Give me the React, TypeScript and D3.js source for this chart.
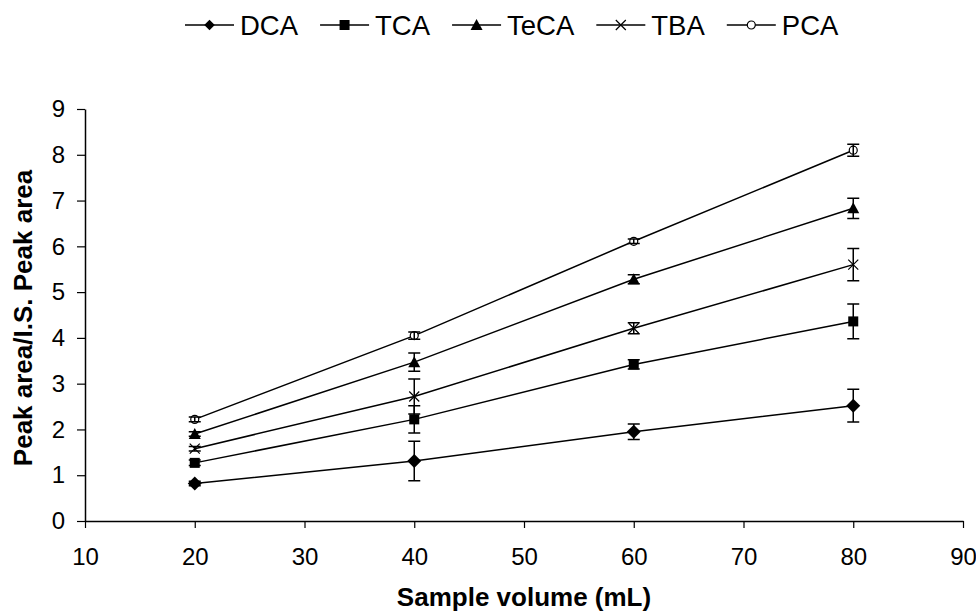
import React, { useEffect, useRef } from 'react';
import * as d3 from 'd3';

// sample volumes (mL)
const volumes = [20, 40, 60, 80];

const seriesNames = ['DCA', 'TCA', 'TeCA', 'TBA', 'PCA'];

// peak area ratio per series
const dca = [0.82, 1.31, 1.95, 2.52];
const tca = [1.27, 2.22, 3.42, 4.36];
const teca = [1.9, 3.47, 5.28, 6.83];
const tba = [1.58, 2.72, 4.21, 5.6];
const pca = [2.22, 4.05, 6.11, 8.1];

// error (± sd)
const dcaErr = [0.05, 0.43, 0.17, 0.36];
const tcaErr = [0.06, 0.3, 0.1, 0.38];
const tecaErr = [0.05, 0.2, 0.1, 0.22];
const tbaErr = [0.05, 0.38, 0.12, 0.35];
const pcaErr = [0.05, 0.08, 0.05, 0.13];

const xTicks = [10, 20, 30, 40, 50, 60, 70, 80, 90];
const yTicks = [0, 1, 2, 3, 4, 5, 6, 7, 8, 9];

const values = [dca, tca, teca, tba, pca];
const errors = [dcaErr, tcaErr, tecaErr, tbaErr, pcaErr];
const markers = ['diamond', 'square', 'triangle', 'cross', 'circle'];

const FONT = 'Arial, "Liberation Sans", sans-serif';

function drawMarker(g: any, type: string, x: number, y: number, k = 1) {
  if (type === 'diamond') {
    const s = 7 * k;
    g.append('path').attr('d', `M${x},${y - s}L${x + s},${y}L${x},${y + s}L${x - s},${y}Z`).attr('fill', '#000');
  } else if (type === 'square') {
    g.append('rect').attr('x', x - 5).attr('y', y - 5).attr('width', 10).attr('height', 10).attr('fill', '#000');
  } else if (type === 'triangle') {
    g.append('path').attr('d', `M${x},${y - 6}L${x + 6},${y + 5}L${x - 6},${y + 5}Z`).attr('fill', '#000');
  } else if (type === 'cross') {
    g.append('path').attr('d', `M${x - 5},${y - 5}L${x + 5},${y + 5}M${x - 5},${y + 5}L${x + 5},${y - 5}`)
      .attr('stroke', '#000').attr('stroke-width', 1.2);
  } else {
    g.append('circle').attr('cx', x).attr('cy', y).attr('r', 4).attr('fill', '#fff')
      .attr('stroke', '#000').attr('stroke-width', 1.2);
  }
}

const App = () => {
  const svgRef = useRef<SVGSVGElement>(null);

  useEffect(() => {
    const width = 976;
    const height = 616;
    const margin = { top: 109, right: 13, bottom: 95, left: 85 };

    const svg = d3.select(svgRef.current);
    svg.selectAll('*').remove();

    const x = d3.scaleLinear().domain([10, 90]).range([margin.left, width - margin.right]);
    const y = d3.scaleLinear().domain([0, 9]).range([height - margin.bottom, margin.top]);

    // axes
    const xAxis = svg.append('g')
      .attr('transform', `translate(0,${height - margin.bottom})`)
      .call(d3.axisBottom(x).tickValues(xTicks).tickSize(7).tickSizeOuter(0).tickPadding(20));
    const yAxis = svg.append('g')
      .attr('transform', `translate(${margin.left},0)`)
      .call(d3.axisLeft(y).tickValues(yTicks).tickSize(8).tickSizeOuter(0).tickPadding(12));

    [xAxis, yAxis].forEach(a => {
      a.select('.domain').attr('stroke', '#000').attr('stroke-width', 1.5);
      a.selectAll('line').attr('stroke', '#000').attr('stroke-width', 1.2);
      a.selectAll('text').attr('font-family', FONT).attr('font-size', 24).attr('fill', '#000');
    });

    // lines
    const line = d3.line<number>().x((d, i) => x(volumes[i])).y(d => y(d));
    values.forEach(vals => {
      svg.append('path').datum(vals).attr('d', line).attr('fill', 'none')
        .attr('stroke', '#000').attr('stroke-width', 1.5);
    });

    // markers and error bars
    values.forEach((vals, si) => {
      const g = svg.append('g');
      vals.forEach((v, i) => {
        const cx = x(volumes[i]);
        drawMarker(g, markers[si], cx, y(v));
        const e = errors[si][i];
        const y0 = y(v - e);
        const y1 = y(v + e);
        g.append('path')
          .attr('d', `M${cx},${y0}L${cx},${y1}M${cx - 6},${y0}L${cx + 6},${y0}M${cx - 6},${y1}L${cx + 6},${y1}`)
          .attr('stroke', '#000').attr('stroke-width', 1.5).attr('fill', 'none');
      });
    });

    // axis titles
    svg.append('text')
      .attr('x', (margin.left + width - margin.right) / 2)
      .attr('y', 606)
      .attr('text-anchor', 'middle')
      .attr('font-family', FONT).attr('font-size', 26).attr('font-weight', 'bold')
      .text('Sample volume (mL)');
    svg.append('text')
      .attr('transform', `translate(32,318) rotate(-90)`)
      .attr('text-anchor', 'middle')
      .attr('font-family', FONT).attr('font-size', 26).attr('font-weight', 'bold')
      .text('Peak area/I.S. Peak area');

    // legend
    const legend = svg.append('g').attr('transform', 'translate(185,25)');
    let lx = 0;
    seriesNames.forEach((name, si) => {
      const item = legend.append('g').attr('transform', `translate(${lx},0)`);
      item.append('line').attr('x1', 0).attr('x2', 49).attr('y1', 0).attr('y2', 0)
        .attr('stroke', '#000').attr('stroke-width', 1.5);
      drawMarker(item, markers[si], 24.5, 0, 0.75);
      const t = item.append('text').attr('x', 55).attr('y', 0).attr('dy', '0.36em')
        .attr('font-family', FONT).attr('font-size', 27.5).text(name);
      const tw = (t.node() as SVGTextElement).getComputedTextLength();
      lx += 55 + tw + 22;
    });
  }, []);

  return (
    <svg ref={svgRef} width={976} height={616} style={{ position: 'absolute', left: 0, top: 0, background: '#fff' }} />
  );
};

export default App;
